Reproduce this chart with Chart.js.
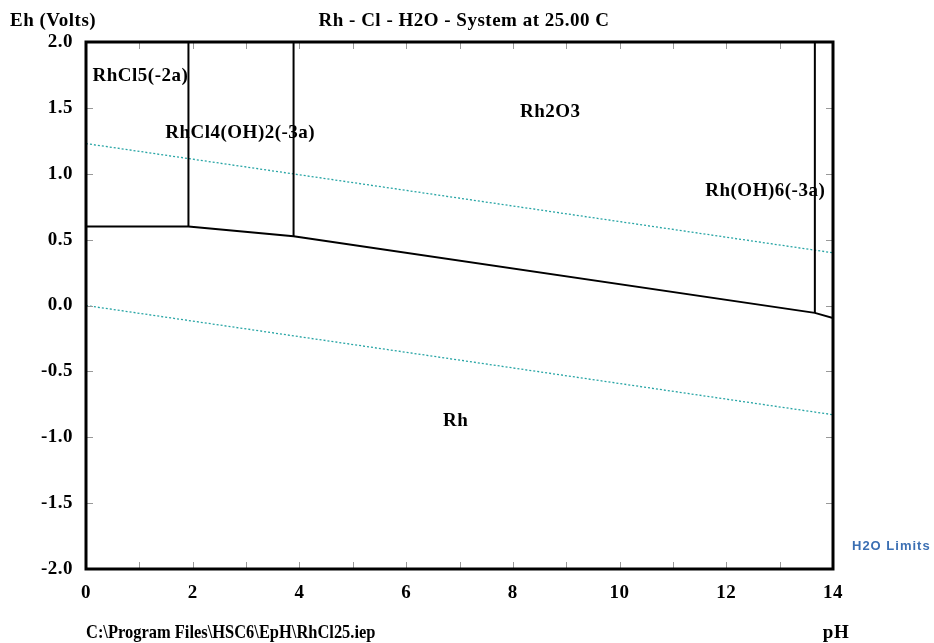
<!DOCTYPE html>
<html>
<head>
<meta charset="utf-8">
<script src="https://cdn.jsdelivr.net/npm/chart.js@4"></script>
<style>
  html, body { margin: 0; padding: 0; background: #fff; }
  #wrap { width: 934px; height: 643px; }
</style>
</head>
<body>
<div id="wrap"><canvas id="ephChart"></canvas></div>
<script>
// pH / Eh boundary data for the Rh - Cl - H2O system at 25 C
const lowerPH = [0, 1.92, 3.89, 13.66, 14];
const lowerEh = [0.60, 0.60, 0.525, -0.056, -0.096];

const verticalPH = [1.92, 3.89, 13.66];
const verticalEhBottom = [0.60, 0.525, -0.056];
const ehTop = 2.0;

const waterPH = [0, 14];
const oxygenEh = [1.229, 0.400];
const hydrogenEh = [0.000, -0.829];

const regionNames = ['RhCl5(-2a)', 'RhCl4(OH)2(-3a)', 'Rh2O3', 'Rh(OH)6(-3a)', 'Rh'];
const regionPH = [1.02, 2.89, 8.70, 12.73, 6.93];
const regionEh = [1.745, 1.312, 1.468, 0.870, -0.880];

const xTicks = [0, 2, 4, 6, 8, 10, 12, 14];
const yTicks = [-2.0, -1.5, -1.0, -0.5, 0.0, 0.5, 1.0, 1.5, 2.0];

const serif = '"Liberation Serif", "Times New Roman", serif';
const teal = 'rgb(40,165,165)';

function toPoints(xs, ys) {
    return xs.map((x, i) => ({ x: x, y: ys[i] }));
}

const datasets = [];
datasets.push({
    data: toPoints(lowerPH, lowerEh),
    borderColor: '#000', borderWidth: 2
});
verticalPH.forEach((ph, i) => {
    datasets.push({
        data: [{ x: ph, y: verticalEhBottom[i] }, { x: ph, y: ehTop }],
        borderColor: '#000', borderWidth: 2
    });
});
datasets.push({
    data: toPoints(waterPH, oxygenEh),
    borderColor: teal, borderWidth: 1.3, borderDash: [2, 2]
});
datasets.push({
    data: toPoints(waterPH, hydrogenEh),
    borderColor: teal, borderWidth: 1.3, borderDash: [2, 2]
});
datasets.forEach(d => {
    d.showLine = true;
    d.pointRadius = 0;
    d.fill = false;
    d.tension = 0;
});

// frame, inner tick marks and all the free text
const decorations = {
    id: 'decorations',
    beforeDraw(chart) {
        chart.ctx.letterSpacing = '0.5px';
    },
    afterDraw(chart) {
        const ctx = chart.ctx;
        const a = chart.chartArea;
        const xs = chart.scales.x, ys = chart.scales.y;
        ctx.save();

        // small inward ticks
        ctx.strokeStyle = '#999';
        ctx.lineWidth = 1;
        ctx.beginPath();
        for (let p = 1; p < 14; p++) {
            const px = Math.round(xs.getPixelForValue(p)) + 0.5;
            ctx.moveTo(px, a.top); ctx.lineTo(px, a.top + 7);
            ctx.moveTo(px, a.bottom); ctx.lineTo(px, a.bottom - 7);
        }
        yTicks.slice(1, -1).forEach(v => {
            const py = Math.round(ys.getPixelForValue(v)) + 0.5;
            ctx.moveTo(a.left, py); ctx.lineTo(a.left + 7, py);
            ctx.moveTo(a.right, py); ctx.lineTo(a.right - 7, py);
        });
        ctx.stroke();

        // frame
        ctx.strokeStyle = '#000';
        ctx.lineWidth = 3;
        ctx.strokeRect(a.left, a.top, a.right - a.left, a.bottom - a.top);

        // region labels
        ctx.fillStyle = '#000';
        ctx.font = '700 19px ' + serif;
        ctx.letterSpacing = '0.5px';
        ctx.textAlign = 'center';
        ctx.textBaseline = 'middle';
        regionNames.forEach((name, i) => {
            ctx.fillText(name, xs.getPixelForValue(regionPH[i]), ys.getPixelForValue(regionEh[i]));
        });

        // headings and footers
        ctx.textBaseline = 'alphabetic';
        ctx.textAlign = 'left';
        ctx.fillText('Eh (Volts)', 10, 26);
        ctx.textAlign = 'center';
        ctx.fillText('Rh - Cl - H2O - System at 25.00 C', 464, 26);
        ctx.fillText('pH', 836, 638);

        // file path is drawn a little condensed
        ctx.save();
        ctx.textAlign = 'left';
        ctx.letterSpacing = '0px';
        ctx.translate(86, 638);
        ctx.scale(0.866, 1);
        ctx.fillText('C:\\Program Files\\HSC6\\EpH\\RhCl25.iep', 0, 0);
        ctx.restore();

        ctx.textAlign = 'left';
        ctx.font = '700 13px "Liberation Sans", Arial, sans-serif';
        ctx.letterSpacing = '1px';
        ctx.fillStyle = '#3b6fb3';
        ctx.fillText('H2O Limits', 852, 550);

        ctx.restore();
        ctx.letterSpacing = '0px';
    }
};

const ctx = document.getElementById('ephChart').getContext('2d');
new Chart(ctx, {
    type: 'scatter',
    data: { datasets: datasets },
    options: {
        responsive: true,
        maintainAspectRatio: false,
        animation: false,
        layout: { padding: { top: 42, right: 101, left: 0, bottom: 0 } },
        plugins: {
            legend: { display: false },
            tooltip: { enabled: false }
        },
        scales: {
            x: {
                type: 'linear',
                min: 0, max: 14,
                afterFit: scale => { scale.height = 74; },
                afterBuildTicks: scale => { scale.ticks = xTicks.map(v => ({ value: v })); },
                grid: { display: false },
                border: { display: false },
                ticks: {
                    color: '#000',
                    padding: 5,
                    maxRotation: 0,
                    font: { family: serif, size: 19, weight: '700' },
                    callback: v => String(v)
                }
            },
            y: {
                type: 'linear',
                min: -2, max: 2,
                afterFit: scale => { scale.width = 86; },
                afterBuildTicks: scale => { scale.ticks = yTicks.map(v => ({ value: v })); },
                grid: { display: false },
                border: { display: false },
                ticks: {
                    color: '#000',
                    padding: 5,
                    font: { family: serif, size: 19, weight: '700' },
                    callback: v => Number(v).toFixed(1)
                }
            }
        }
    },
    plugins: [decorations]
});
</script>
</body>
</html>
